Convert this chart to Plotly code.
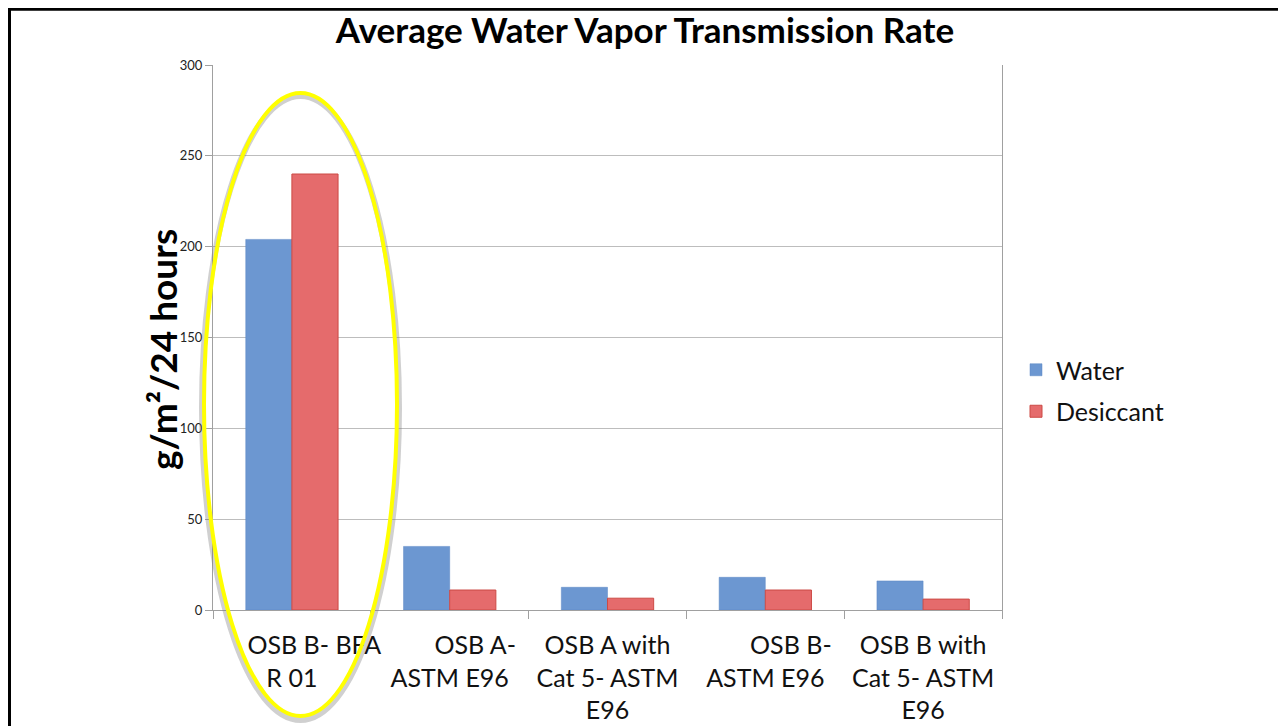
import plotly.graph_objects as go

NB = "\u00a0"
categories = [
    NB * 7 + "OSB B- BFA<br>R 01",
    NB * 8 + "OSB A-<br>ASTM E96",
    "OSB A with<br>Cat 5- ASTM<br>E96",
    NB * 8 + "OSB B-<br>ASTM E96",
    "OSB B with<br>Cat 5- ASTM<br>E96",
]
water = [204, 35, 12.5, 18, 16]
desiccant = [240, 11, 6.5, 11, 6]
y_ticks = [0, 50, 100, 150, 200, 250, 300]

FONT = "Lato"
OFF = 8  # page offset of the figure in the screenshot
W, H = 1286 - OFF, 726 - OFF

fig = go.Figure()
fig.add_trace(go.Bar(
    name="Water", x=categories, y=water, legendgroup="w",
    marker=dict(color="#6C97D1", line=dict(color="#5B87C4", width=0.5)),
))
fig.add_trace(go.Bar(
    name="Desiccant", x=categories, y=desiccant, legendgroup="d",
    marker=dict(color="#E56B6C", line=dict(color="#CC4A45", width=1)),
))

# paper coordinate helpers, in reference-screenshot pixels
# (plot area: x 213..1002 px, y 65..610 px)
def px(x):
    return (x - 213) / 789

def py(y):
    return (610 - y) / 545

shapes = [
    # ellipse shadow
    dict(type="circle", xref="paper", yref="paper",
         x0=px(202), x1=px(399), y0=py(720), y1=py(96),
         line=dict(color="rgba(120,120,120,0.35)", width=6), layer="above"),
    # yellow ellipse
    dict(type="circle", xref="paper", yref="paper",
         x0=px(204), x1=px(397), y0=py(716), y1=py(93),
         line=dict(color="#FFFF00", width=4), layer="above"),
    # frame lines (top and left)
    dict(type="line", xref="paper", yref="paper",
         x0=px(8), x1=px(1300), y0=py(9.2), y1=py(9.2),
         line=dict(color="black", width=3)),
    dict(type="line", xref="paper", yref="paper",
         x0=px(9.5), x1=px(9.5), y0=py(7.5), y1=py(740),
         line=dict(color="black", width=3)),
]

fig.update_layout(
    width=W, height=H,
    margin=dict(l=213 - OFF, r=1286 - 1002, t=65 - OFF, b=726 - 610,
                autoexpand=False),
    paper_bgcolor="white", plot_bgcolor="white",
    font=dict(family=FONT, color="#111111"),
    barmode="group", bargap=0.415, bargroupgap=0,
    title=dict(text="<b>Average Water Vapor Transmission Rate</b>",
               x=(645 - OFF) / W, xanchor="center", xref="container",
               y=1 - (31 - OFF) / H, yanchor="middle", yref="container",
               font=dict(family=FONT, size=35, color="#000000")),
    legend=dict(x=px(1016), y=py(347), xanchor="left", yanchor="top",
                font=dict(family=FONT, size=25, color="#111111"),
                traceorder="grouped", tracegroupgap=6,
                bgcolor="rgba(0,0,0,0)"),
    shapes=shapes,
    annotations=[dict(text="<b>g/m²/24 hours</b>", xref="paper", yref="paper",
                      x=px(162), y=py(350), textangle=-90, showarrow=False,
                      xanchor="center", yanchor="middle",
                      font=dict(family=FONT, size=37, color="#000000"))],
)

fig.update_xaxes(
    type="category", showline=True, linecolor="#A0A0A0", linewidth=1,
    ticks="outside", tickson="boundaries", ticklen=8, tickcolor="#A0A0A0",
    tickfont=dict(family=FONT, size=25, color="#111111"), tickangle=0,
    ticklabelstandoff=13, showgrid=False, automargin=False,
)
fig.update_yaxes(
    range=[0, 300], tickvals=y_ticks, showline=True, linecolor="#A0A0A0",
    linewidth=1, mirror=True, ticks="outside", ticklen=7, tickcolor="#A0A0A0",
    tickfont=dict(family=FONT, size=13, color="#222222"),
    showgrid=True, gridcolor="#BDBDBD", gridwidth=1, zeroline=False,
    automargin=False,
)

fig.write_html("out.html")
